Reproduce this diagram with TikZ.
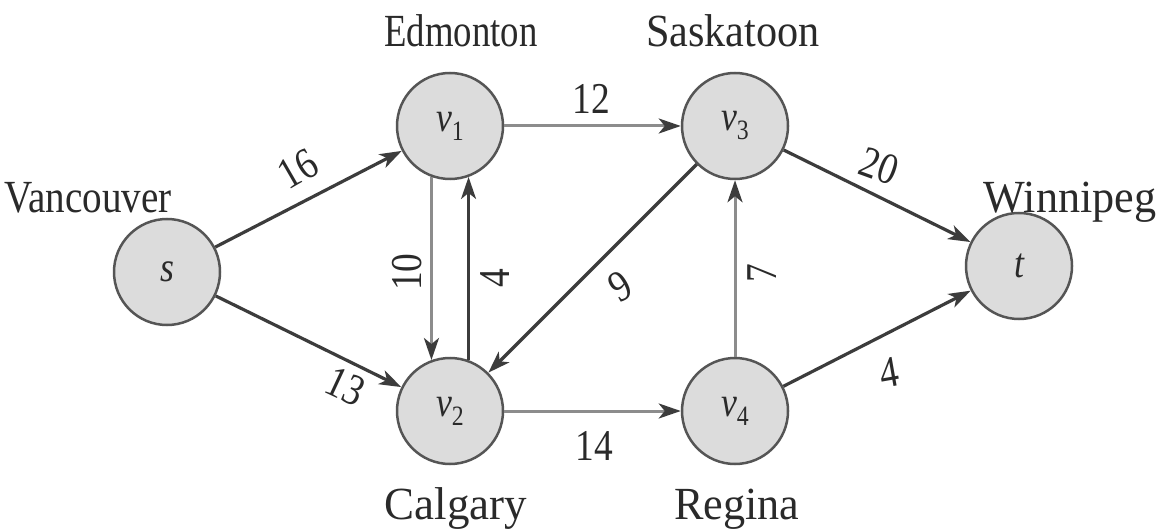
\documentclass[tikz,border=0pt]{standalone}
\usepackage{fontspec}
\setmainfont{Liberation Serif}[FakeStretch=0.85]
\usetikzlibrary{arrows.meta}
\definecolor{nodefill}{HTML}{DCDCDC}
\definecolor{nodeline}{HTML}{555555}
\definecolor{ink}{HTML}{2A2A2A}
\definecolor{darkedge}{HTML}{3C3C3C}
\definecolor{lightedge}{HTML}{8C8C8C}
\newcommand\vsub[1]{\raisebox{-9pt}{\fontsize{28}{28}\selectfont\upshape #1}}
\begin{document}
\begin{tikzpicture}[x=1pt,y=-1pt,
  vertex/.style={circle, draw=nodeline, fill=nodefill, line width=2.5pt, minimum size=106pt, inner sep=0pt, font=\fontsize{42}{42}\selectfont\itshape, text=ink},
  city/.style={font=\fontsize{46}{46}\selectfont, text=ink, anchor=base, inner sep=0pt},
  wt/.style={font=\fontsize{44}{44}\selectfont, text=ink, inner sep=0pt},
  heavy/.style={draw=darkedge, line width=3.2pt, -{Stealth[length=22pt,width=15pt,inset=6pt]}},
  medium/.style={draw=darkedge, line width=2.4pt, -{Stealth[length=22pt,width=15pt,inset=6pt]}},
  light/.style={draw=lightedge, line width=3pt, -{Stealth[length=22pt,width=15pt,inset=6pt,color=darkedge]}},
]
\fill[white] (0,0) rectangle (1161,529);
\useasboundingbox (0,0) rectangle (1161,529);

\node[vertex] (s)  at (167,272) {s};
\node[vertex] (v1) at (450,126) {v\vsub{1}};
\node[vertex] (v3) at (735,126) {v\vsub{3}};
\node[vertex] (v2) at (450,411) {v\vsub{2}};
\node[vertex] (v4) at (735,411) {v\vsub{4}};
\node[vertex] (t)  at (1019,266) {t};

\node[city, xscale=1.0]  (lvan) at (88,213)   {Vancouver};
\node[city, xscale=0.94] (ledm) at (461,47)   {Edmonton};
\node[city, xscale=1.08] (lsas) at (733,47)   {Saskatoon};
\node[city, xscale=1.13] (lwin) at (1070,213) {Winnipeg};
\node[city, xscale=1.15] (lcal) at (456,519)  {Calgary};
\node[city, xscale=1.13] (lreg) at (737,519)  {Regina};

\draw[heavy] (s) -- (v1);
\draw[heavy] (s) -- (v2);
\draw[light] (v1) -- (v3);
\draw[light] (v1.250) -- (v2.110);
\draw[medium] (v2.70) -- (v1.290);
\draw[heavy] (v3) -- (v2);
\draw[light] (v2) -- (v4);
\draw[light] (v4) -- (v3);
\draw[heavy] (v3) -- (t);
\draw[heavy] (v4) -- (t);

\node[wt, rotate=30]  (w16) at (298,169) {16};
\node[wt, rotate=-25] (w13) at (346,386) {13};
\node[wt]             (w12) at (591,99)  {12};
\node[wt, rotate=90]  (w10) at (407,272) {10};
\node[wt, rotate=90]  (w4a) at (495,278) {4};
\node[wt, rotate=30]  (w9)  at (620,286) {9};
\node[wt, rotate=90]  (w7)  at (762,273) {7};
\node[wt]             (w14) at (594,446) {14};
\node[wt, rotate=-20] (w20) at (879,166) {20};
\node[wt, rotate=10]  (w4b) at (889,373) {4};
\end{tikzpicture}
\end{document}
